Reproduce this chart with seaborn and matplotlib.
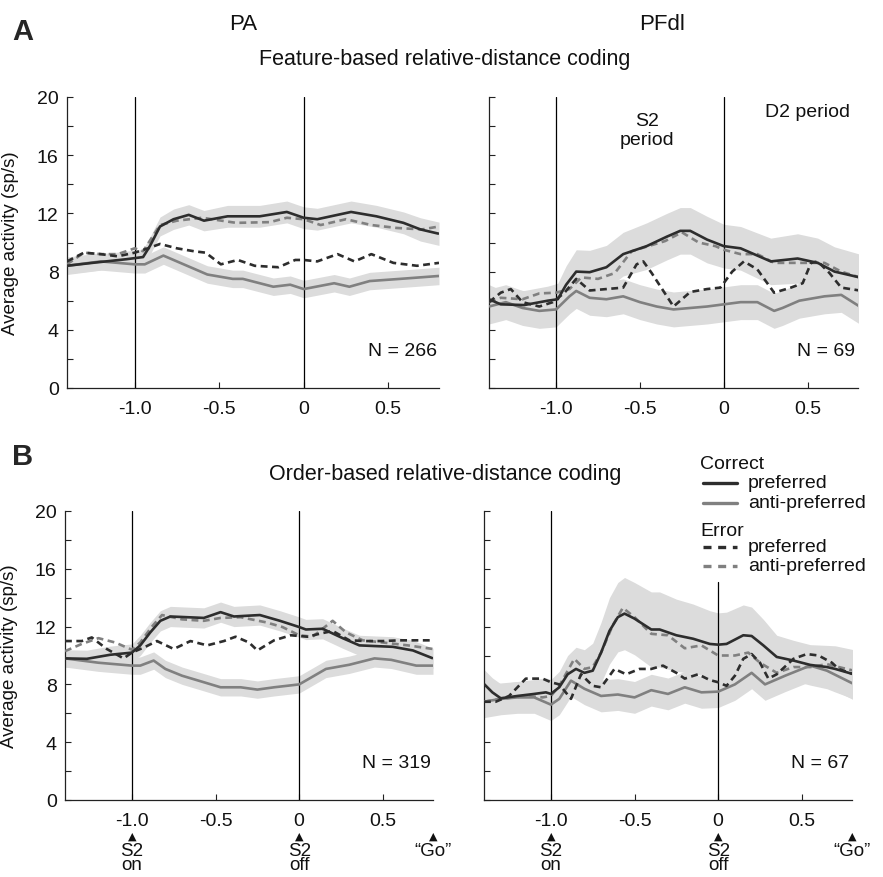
import matplotlib
matplotlib.use("Agg")
import matplotlib.pyplot as plt
import matplotlib.transforms as mtransforms
from matplotlib.lines import Line2D
from matplotlib.ticker import MultipleLocator, FixedLocator
import numpy as np
import pandas as pd
import seaborn as sns

sns.set_theme(style="white")
plt.rcParams['font.family'] = ['Liberation Sans Narrow', 'Liberation Sans', 'DejaVu Sans']

# ---------------- data (time from S2 offset, s ; activity sp/s) ----------------
# Panel A, PA
a_pa_cp_t = [-1.40,-1.25,-1.05,-0.95,-0.91,-0.85,-0.77,-0.68,-0.59,-0.45,-0.26,-0.10,0.00,0.08,0.28,0.43,0.59,0.69,0.80]
a_pa_cp_v = [8.4,8.6,8.85,9.0,9.75,11.1,11.6,11.9,11.5,11.8,11.8,12.1,11.7,11.6,12.1,11.8,11.35,10.9,10.6]
a_pa_cp_e = [0.55,0.55,0.55,0.55,0.6,0.65,0.7,0.7,0.7,0.75,0.75,0.75,0.75,0.75,0.75,0.75,0.75,0.8,0.8]
a_pa_ca_t = [-1.40,-1.20,-1.00,-0.94,-0.83,-0.69,-0.57,-0.42,-0.36,-0.18,-0.08,0.00,0.18,0.27,0.39,0.57,0.80]
a_pa_ca_v = [8.4,8.7,8.5,8.5,9.1,8.4,7.8,7.5,7.5,6.96,7.1,6.8,7.2,6.96,7.35,7.5,7.7]
a_pa_ca_e = [0.6]*17
a_pa_ep_t = [-1.40,-1.30,-1.20,-1.10,-1.00,-0.92,-0.85,-0.75,-0.65,-0.58,-0.49,-0.39,-0.29,-0.15,-0.05,0.00,0.08,0.20,0.30,0.40,0.53,0.67,0.80]
a_pa_ep_v = [8.7,9.3,9.2,9.05,9.3,9.6,9.9,9.6,9.4,9.3,8.5,8.8,8.4,8.3,8.8,8.8,8.7,9.2,8.7,9.2,8.6,8.4,8.6]
a_pa_ea_t = [-1.40,-1.30,-1.20,-1.10,-1.00,-0.95,-0.85,-0.75,-0.60,-0.40,-0.20,-0.10,0.00,0.10,0.25,0.40,0.55,0.70,0.80]
a_pa_ea_v = [8.5,9.3,9.2,9.2,9.6,9.4,11.2,11.5,11.7,11.35,11.4,11.7,11.6,11.2,11.6,11.2,11.0,10.9,11.1]

# Panel A, PFdl
a_pf_cp_t = [-1.40,-1.33,-1.19,-1.05,-0.99,-0.94,-0.88,-0.80,-0.70,-0.60,-0.46,-0.34,-0.26,-0.20,-0.10,0.00,0.10,0.28,0.44,0.56,0.66,0.81]
a_pf_cp_v = [6.1,5.75,5.7,6.0,6.1,7.1,8.0,7.96,8.3,9.2,9.75,10.4,10.8,10.8,10.2,9.75,9.6,8.7,8.9,8.6,8.0,7.6]
a_pf_cp_e = [1.0,1.0,1.0,1.0,1.1,1.3,1.5,1.5,1.5,1.5,1.6,1.6,1.6,1.6,1.6,1.5,1.5,1.6,1.7,1.7,1.7,1.6]
a_pf_ca_t = [-1.40,-1.30,-1.20,-1.10,-1.00,-0.92,-0.88,-0.80,-0.70,-0.60,-0.50,-0.40,-0.30,-0.20,-0.10,0.00,0.10,0.20,0.30,0.35,0.45,0.60,0.70,0.81]
a_pf_ca_v = [5.6,5.9,5.5,5.3,5.4,6.3,6.67,6.2,6.1,6.3,5.9,5.6,5.4,5.5,5.6,5.75,5.9,5.9,5.3,5.5,6.0,6.3,6.4,5.6]
a_pf_ca_e = [1.2]*24
a_pf_ep_t = [-1.40,-1.33,-1.27,-1.20,-1.10,-1.02,-0.95,-0.88,-0.80,-0.70,-0.60,-0.52,-0.48,-0.43,-0.30,-0.20,-0.10,-0.02,0.05,0.12,0.20,0.30,0.40,0.47,0.52,0.56,0.63,0.70,0.81]
a_pf_ep_v = [5.9,6.55,6.8,5.9,5.6,5.9,6.55,7.5,6.7,6.8,6.9,8.5,8.7,7.9,5.6,6.6,6.8,6.9,8.0,8.7,8.15,6.55,6.9,7.2,8.6,8.7,7.9,6.9,6.7]
a_pf_ea_t = [-1.40,-1.33,-1.20,-1.10,-1.00,-0.92,-0.85,-0.75,-0.65,-0.55,-0.45,-0.35,-0.25,-0.15,-0.05,0.00,0.10,0.20,0.30,0.40,0.50,0.60,0.70,0.81]
a_pf_ea_v = [5.9,6.2,6.1,6.5,6.55,6.8,7.6,7.5,7.9,9.4,9.75,10.1,10.7,10.0,9.75,9.5,9.2,9.2,8.6,8.6,8.6,8.6,8.0,7.6]

# Panel B, PA
b_pa_cp_t = [-1.40,-1.27,-1.13,-1.00,-0.95,-0.89,-0.83,-0.77,-0.57,-0.47,-0.39,-0.235,-0.115,0.00,0.04,0.14,0.26,0.36,0.56,0.68,0.80]
b_pa_cp_v = [9.8,9.77,10.05,10.2,10.7,11.6,12.4,12.7,12.6,13.0,12.7,12.8,12.4,11.97,11.8,11.85,11.2,10.7,10.6,10.35,9.8]
b_pa_cp_e = [0.6]*4 + [0.7]*17
b_pa_ca_t = [-1.40,-1.20,-1.00,-0.95,-0.87,-0.80,-0.70,-0.57,-0.47,-0.35,-0.25,-0.15,0.00,0.06,0.16,0.30,0.45,0.55,0.70,0.80]
b_pa_ca_v = [9.8,9.5,9.3,9.3,9.65,9.07,8.6,8.15,7.8,7.8,7.64,7.8,8.0,8.4,9.07,9.36,9.8,9.7,9.3,9.3]
b_pa_ca_e = [0.6]*20
b_pa_ep_t = [-1.40,-1.30,-1.24,-1.15,-1.05,-1.00,-0.92,-0.85,-0.75,-0.65,-0.55,-0.45,-0.38,-0.30,-0.25,-0.15,-0.05,0.05,0.12,0.20,0.30,0.40,0.50,0.60,0.80]
b_pa_ep_v = [11.0,11.0,11.25,10.45,9.8,10.2,10.6,11.0,10.45,11.0,10.7,11.0,11.3,10.9,10.35,11.05,11.4,11.3,11.5,11.7,11.05,11.0,11.0,11.05,11.05]
b_pa_ea_t = [-1.40,-1.30,-1.20,-1.10,-1.00,-0.95,-0.88,-0.82,-0.70,-0.57,-0.47,-0.35,-0.20,-0.10,0.00,0.08,0.20,0.28,0.38,0.50,0.65,0.80]
b_pa_ea_v = [10.3,10.8,11.2,10.9,10.4,10.9,12.0,12.8,12.5,12.4,12.6,12.65,12.3,11.97,11.4,11.3,12.4,11.6,11.05,10.9,10.7,10.45]

# Panel B, PFdl
b_pf_cp_t = [-1.40,-1.35,-1.30,-1.20,-1.10,-1.03,-1.00,-0.95,-0.90,-0.85,-0.80,-0.75,-0.70,-0.65,-0.60,-0.56,-0.50,-0.40,-0.35,-0.25,-0.15,-0.05,0.00,0.05,0.15,0.20,0.27,0.35,0.45,0.55,0.65,0.70,0.81]
b_pf_cp_v = [8.03,7.45,7.04,7.2,7.34,7.45,7.34,7.8,8.7,9.07,8.8,8.95,10.2,11.7,12.65,12.9,12.55,11.8,11.8,11.4,11.16,10.8,10.75,10.8,11.4,11.35,10.7,9.9,9.65,9.35,9.2,9.07,8.7]
b_pf_cp_e = [1.0,1.0,1.0,1.0,1.0,1.0,1.0,1.1,1.3,1.5,1.6,1.9,2.1,2.3,2.4,2.5,2.5,2.6,2.6,2.5,2.4,2.3,2.2,2.2,2.1,2.0,1.8,1.5,1.4,1.4,1.5,1.6,1.7]
b_pf_ca_t = [-1.40,-1.30,-1.20,-1.10,-1.00,-0.95,-0.88,-0.80,-0.70,-0.60,-0.50,-0.40,-0.30,-0.20,-0.10,0.00,0.10,0.20,0.28,0.40,0.55,0.65,0.81]
b_pf_ca_v = [6.8,7.0,7.1,7.1,6.6,7.0,8.26,7.7,7.2,7.3,7.1,7.6,7.34,7.8,7.45,7.5,8.0,8.8,8.0,8.6,9.3,8.95,8.03]
b_pf_ca_e = [1.1]*23
b_pf_ep_t = [-1.40,-1.33,-1.25,-1.15,-1.05,-1.00,-0.95,-0.88,-0.82,-0.75,-0.70,-0.62,-0.55,-0.47,-0.40,-0.33,-0.25,-0.20,-0.12,-0.05,0.00,0.05,0.10,0.15,0.20,0.25,0.30,0.35,0.45,0.53,0.60,0.68,0.72,0.81]
b_pf_ep_v = [6.8,6.8,7.2,8.4,8.4,8.15,8.0,7.0,8.7,7.9,7.8,9.07,8.7,9.07,9.07,9.3,8.8,8.4,8.7,8.3,8.15,7.9,8.6,9.77,10.1,9.5,8.4,8.7,9.77,10.1,10.0,9.5,9.07,8.7]
b_pf_ea_t = [-1.40,-1.30,-1.15,-1.05,-1.00,-0.95,-0.86,-0.80,-0.75,-0.70,-0.63,-0.57,-0.50,-0.40,-0.30,-0.20,-0.10,0.00,0.10,0.18,0.25,0.35,0.45,0.55,0.65,0.81]
b_pf_ea_v = [6.8,7.0,7.2,7.1,7.2,7.9,9.77,9.07,9.2,10.2,12.1,13.3,12.65,11.5,11.4,10.5,10.7,10.0,10.0,10.2,9.5,8.8,9.2,9.2,9.4,8.95]

panel_titles = ["PA", "PFdl"]
subtitles = ["Feature-based relative-distance coding", "Order-based relative-distance coding"]
n_labels = ["N = 266", "N = 69", "N = 319", "N = 67"]
xtick_vals = [-1.0, -0.5, 0.0, 0.5]
xtick_labels = ["-1.0", "-0.5", "0", "0.5"]
ytick_vals = [0, 4, 8, 12, 16, 20]
event_times = [-1.0, 0.0, 0.8]
event_labels = ["S2\non", "S2\noff", "\u201cGo\u201d"]
legend_labels = ["preferred", "anti-preferred"]

# ---------------- style ----------------
DARK = "#2d2d2d"
GREY = "#808080"
BAND = "#dcdcdc"
LW = 1.9

W, H = 883, 878
fig = plt.figure(figsize=(W / 100, H / 100), dpi=100)
fig.patch.set_facecolor("white")


def add_ax(l, t, r, b):
    return fig.add_axes([l / W, 1 - b / H, (r - l) / W, (b - t) / H])


def ftext(x, y, s, **kw):
    fig.text(x / W, 1 - y / H, s, **kw)


def series(ax, t, v, color, dashed, z):
    df = pd.DataFrame({"t": t, "v": v})
    sns.lineplot(data=df, x="t", y="v", ax=ax, color=color, lw=LW,
                 estimator=None, sort=False, zorder=z)
    ln = ax.lines[-1]
    if dashed:
        ln.set_dashes((2.6, 1.7))
    ln.set_solid_capstyle("butt")
    ln.set_solid_joinstyle("round")


panels = [
    (add_ax(67, 98, 439, 389),
     (a_pa_cp_t, a_pa_cp_v, a_pa_cp_e), (a_pa_ca_t, a_pa_ca_v, a_pa_ca_e),
     (a_pa_ep_t, a_pa_ep_v), (a_pa_ea_t, a_pa_ea_v)),
    (add_ax(489, 98, 858, 389),
     (a_pf_cp_t, a_pf_cp_v, a_pf_cp_e), (a_pf_ca_t, a_pf_ca_v, a_pf_ca_e),
     (a_pf_ep_t, a_pf_ep_v), (a_pf_ea_t, a_pf_ea_v)),
    (add_ax(65, 512, 433, 801),
     (b_pa_cp_t, b_pa_cp_v, b_pa_cp_e), (b_pa_ca_t, b_pa_ca_v, b_pa_ca_e),
     (b_pa_ep_t, b_pa_ep_v), (b_pa_ea_t, b_pa_ea_v)),
    (add_ax(484, 512, 852, 801),
     (b_pf_cp_t, b_pf_cp_v, b_pf_cp_e), (b_pf_ca_t, b_pf_ca_v, b_pf_ca_e),
     (b_pf_ep_t, b_pf_ep_v), (b_pf_ea_t, b_pf_ea_v)),
]

for i, (ax, cp, ca, ep, ea) in enumerate(panels):
    # SEM bands
    for (t, v, e) in (cp, ca):
        t = np.asarray(t); v = np.asarray(v); e = np.asarray(e)
        ax.fill_between(t, v - e, v + e, color=BAND, lw=0, zorder=1)
    # event lines
    ymax0 = 15.1 / 20 if i == 3 else 1.0
    ax.axvline(-1.0, color="black", lw=0.9, zorder=2)
    ax.axvline(0.0, ymax=ymax0, color="black", lw=0.9, zorder=2)
    # traces
    series(ax, ca[0], ca[1], GREY, False, 3)
    series(ax, ea[0], ea[1], GREY, True, 4)
    series(ax, ep[0], ep[1], DARK, True, 5)
    series(ax, cp[0], cp[1], DARK, False, 6)

    ax.set_xlim(-1.4, 0.8)
    ax.set_ylim(0, 20)
    ax.set_xlabel("")
    sns.despine(ax=ax)
    for sp in ("left", "bottom"):
        ax.spines[sp].set_color("#222222")
        ax.spines[sp].set_linewidth(0.9)
    ax.xaxis.set_major_locator(FixedLocator(xtick_vals))
    ax.set_xticklabels(xtick_labels)
    ax.yaxis.set_major_locator(FixedLocator(ytick_vals))
    ax.yaxis.set_minor_locator(MultipleLocator(2))
    ax.tick_params(axis="both", which="both", direction="in", length=4,
                   width=0.8, color="#222222", labelsize=14, labelcolor="#111111",
                   bottom=True, left=True)
    ax.tick_params(axis="x", pad=9)
    ax.tick_params(axis="y", pad=6)
    if i in (0, 2):
        ax.set_ylabel("Average activity (sp/s)", fontsize=13.5, color="#111111")
        ax.yaxis.set_label_coords(-0.128, 0.5)
        ax.set_yticklabels([str(v) for v in ytick_vals])
    else:
        ax.set_ylabel("")
        ax.set_yticklabels([])
    ax.text(0.79 if i % 2 == 0 else 0.78, 2.6, n_labels[i], ha="right", va="center",
            fontsize=14, color="#111111")

    if i >= 2:
        tr = mtransforms.blended_transform_factory(ax.transData, ax.transAxes)
        for x, lab in zip(event_times, event_labels):
            ax.text(x, -0.122, "\u25B2", transform=tr, ha="center", va="center",
                    fontsize=8, family="DejaVu Sans", color="#111111")
            if lab.startswith("S2"):
                ax.text(x, -0.145, lab, transform=tr, ha="center", va="top",
                        fontsize=13.5, linespacing=0.78, color="#111111")
            else:
                ax.text(x, -0.145, lab, transform=tr, ha="center", va="top",
                        fontsize=13.5, color="#111111")

# period annotations in the PFdl feature panel
axr = panels[1][0]
axr.text(-0.46, 17.7, "S2\nperiod", ha="center", va="center", fontsize=14,
         linespacing=1.15, color="#111111")
axr.text(0.50, 19.0, "D2 period", ha="center", va="center", fontsize=14, color="#111111")

# headings
ftext(12, 32, "A", fontsize=21, fontweight="bold", ha="left", va="center")
ftext(12, 457, "B", fontsize=21, fontweight="bold", ha="left", va="center")
ftext(243, 25, panel_titles[0], fontsize=16, ha="center", va="center", color="#111111")
ftext(662, 25, panel_titles[1], fontsize=16, ha="center", va="center", color="#111111")
ftext(445, 60, subtitles[0], fontsize=15.5, ha="center", va="center", color="#111111")
ftext(445, 475, subtitles[1], fontsize=15.5, ha="center", va="center", color="#111111")

# legend (drawn manually)
ftext(700, 465, "Correct", fontsize=14, ha="left", va="center", color="#111111")
ftext(700, 532, "Error", fontsize=14, ha="left", va="center", color="#111111")
leg_rows = [(484, DARK, False, legend_labels[0]), (504, GREY, False, legend_labels[1]),
            (548, DARK, True, legend_labels[0]), (567, GREY, True, legend_labels[1])]
for y, c, dashed, lab in leg_rows:
    ln = Line2D([703 / W, 737 / W], [1 - y / H, 1 - y / H], transform=fig.transFigure,
                color=c, lw=2.4)
    if dashed:
        ln.set_dashes((2.4, 2.0))
    fig.add_artist(ln)
    ftext(748, y, lab, fontsize=14, ha="left", va="center", color="#111111")

fig.savefig("out.png", dpi=100, facecolor="white")
